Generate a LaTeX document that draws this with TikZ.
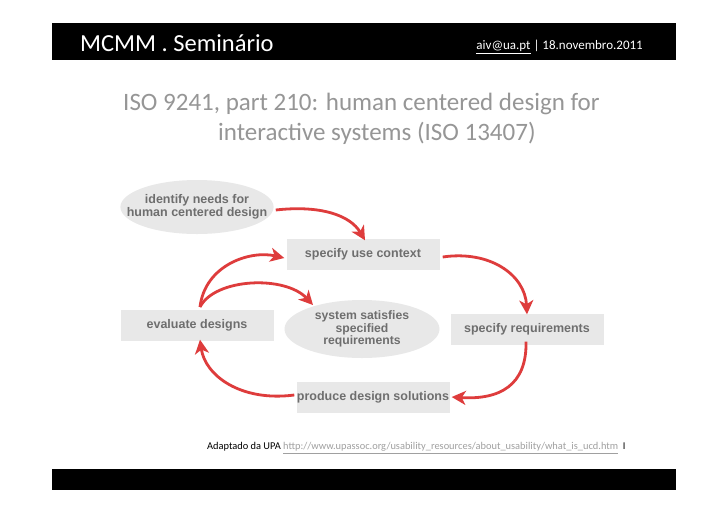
\documentclass[tikz,border=0pt]{standalone}
\usepackage{fontspec}
\setmainfont{Carlito}
\newfontfamily\diafont{Liberation Sans}
\usetikzlibrary{shapes.geometric,arrows.meta}
\definecolor{arrred}{RGB}{222,60,60}
\definecolor{boxgray}{RGB}{232,232,232}
\definecolor{txtgray}{RGB}{110,110,110}
\definecolor{headgray}{RGB}{150,150,150}
\definecolor{linkgray}{RGB}{160,160,160}
\tikzset{
  rbox/.style={fill=boxgray,draw=none,minimum width=153pt,minimum height=31pt,inner sep=0pt,
    font=\diafont\bfseries\fontsize{12.5}{13.5}\selectfont,text=txtgray,align=center},
  ell/.style={ellipse,fill=boxgray,draw=none,inner sep=0pt,
    font=\diafont\bfseries\fontsize{12.5}{13.5}\selectfont,text=txtgray,align=center},
  redarr/.style={draw=arrred,line width=2.8pt,-{Stealth[length=14pt,width=14pt,inset=4pt]}},
}
\begin{document}
\begin{tikzpicture}[x=1pt,y=-1pt]
\useasboundingbox[fill=white] (0,0) rectangle (728,515);
% top bar
\fill[black] (52,23) rectangle (676,60) coordinate (tb);
\node[anchor=west,text=white,font=\fontsize{24.5}{28}\selectfont,inner sep=0pt] (title) at (80,43) {MCMM . Seminário};
\node[anchor=east,text=white,font=\fontsize{13}{15}\selectfont,inner sep=0pt] (mail) at (643,47) {\underline{aiv@ua.pt} | 18.novembro.2011};
% heading
\node[text=headgray,font=\fontsize{25}{30}\selectfont,align=left,inner sep=0pt,anchor=north west] (head) at (123,93)
  {ISO 9241, part 210: human centered design for\\\hspace{95pt}interactive systems (ISO 13407)};
% diagram
\node[ell,inner xsep=-16pt,minimum width=153pt,minimum height=54pt] (need) at (197,207) {identify needs for\\human centered design};
\node[rbox] (ctx) at (363,254) {specify use context};
\node[ell,font=\diafont\bfseries\fontsize{12.2}{12.2}\selectfont,inner ysep=-5pt,minimum width=155pt,minimum height=58pt] (sat) at (362,329) {system satisfies\\specified\\requirements};
\node[rbox] (eval) at (197,325) {evaluate designs};
\node[rbox] (req) at (527,329) {specify requirements};
\node[rbox] (prod) at (373,397) {produce design solutions};
\draw[redarr] ([xshift=2pt,yshift=-3pt]need.east) .. controls (320,205) and (350,215) .. ([xshift=2pt,yshift=-2pt]ctx.north);
\draw[redarr] ([xshift=3pt,yshift=-3pt]ctx.east) .. controls (490,250) and (525,275) .. ([yshift=-1pt]req.north);
\draw[redarr] ([xshift=-1pt,yshift=3pt]req.south) .. controls (527,385) and (500,400) .. ([xshift=2pt]prod.east);
\draw[redarr] ([xshift=-2pt,yshift=2pt]prod.west) .. controls (240,402) and (205,375) .. ([xshift=3pt,yshift=1pt]eval.south);
\coordinate (ev) at (200,307);
\coordinate (sattip) at (313,305);
\draw[redarr] (ev) .. controls (205,265) and (250,250) .. ([xshift=-2pt,yshift=-4pt]ctx.west);
\draw[redarr] (ev) .. controls (215,278) and (285,275) .. (sattip);
% footer
\node[anchor=west,inner sep=0pt,font=\fontsize{10.4}{12}\selectfont] (src) at (207,448)
  {Adaptado da UPA \textcolor{linkgray}{\underline{http://www.upassoc.org/usability\_resources/about\_usability/what\_is\_ucd.htm}}\ \ I};
\fill[black] (52,469) rectangle (676,490) coordinate (bb);
\end{tikzpicture}
\end{document}
